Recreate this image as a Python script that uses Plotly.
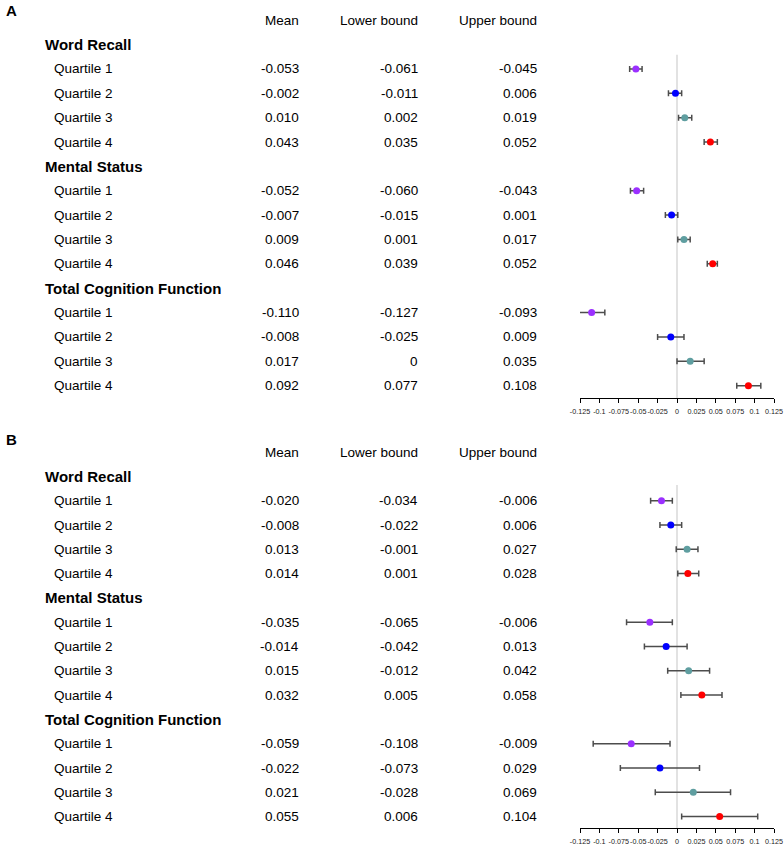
import plotly.graph_objects as go

outcomes = ["Word Recall", "Mental Status", "Total Cognition Function"]
quartiles = ["Quartile 1", "Quartile 2", "Quartile 3", "Quartile 4"]
columns = ["Mean", "Lower bound", "Upper bound"]
ticks = [-0.125, -0.1, -0.075, -0.05, -0.025, 0, 0.025, 0.05, 0.075, 0.1, 0.125]
tick_text = ["-0.125", "-0.1", "-0.075", "-0.05", "-0.025", "0", "0.025", "0.05", "0.075", "0.1", "0.125"]
q_colors = ["#9b30ff", "#0000ff", "#5f9ea0", "#ff0000"]

A_mean = [-0.053, -0.002, 0.010, 0.043, -0.052, -0.007, 0.009, 0.046, -0.110, -0.008, 0.017, 0.092]
A_lower = [-0.061, -0.011, 0.002, 0.035, -0.060, -0.015, 0.001, 0.039, -0.127, -0.025, 0, 0.077]
A_upper = [-0.045, 0.006, 0.019, 0.052, -0.043, 0.001, 0.017, 0.052, -0.093, 0.009, 0.035, 0.108]

B_mean = [-0.020, -0.008, 0.013, 0.014, -0.035, -0.014, 0.015, 0.032, -0.059, -0.022, 0.021, 0.055]
B_lower = [-0.034, -0.022, -0.001, 0.001, -0.065, -0.042, -0.012, 0.005, -0.108, -0.073, -0.028, 0.006]
B_upper = [-0.006, 0.006, 0.027, 0.028, -0.006, 0.013, 0.042, 0.058, -0.009, 0.029, 0.069, 0.104]

W, H = 784, 846
FONT = "Liberation Sans, Arial, sans-serif"

panels = [
    dict(label="A", mean=A_mean, lower=A_lower, upper=A_upper,
         row0=44.6, step=24.36, axis_px=398, top_px=5, line_top=0.42, label_px=10,
         xa="x", ya="y"),
    dict(label="B", mean=B_mean, lower=B_lower, upper=B_upper,
         row0=476.4, step=24.3, axis_px=828, top_px=436, line_top=0.35, label_px=439,
         xa="x2", ya="y2"),
]

fig = go.Figure()
annotations = []
shapes = []
col_right_px = [301, 420, 539]

def fmt(v):
    return "0" if v == 0 else f"{v:.3f}"

for p in panels:
    r_bottom = (p["axis_px"] - p["row0"]) / p["step"]
    r_top = (p["top_px"] - p["row0"]) / p["step"]
    p["r_bottom"], p["r_top"] = r_bottom, r_top
    p["domain"] = [1 - p["axis_px"] / H, 1 - p["top_px"] / H]

    for k, oc in enumerate(outcomes):
        title_row = k * 5
        annotations.append(dict(text=f"<b>{oc}</b>", xref="paper", yref=p["ya"],
                                x=43 / W, y=title_row, xanchor="left", yanchor="middle",
                                showarrow=False, font=dict(family=FONT, size=15, color="black")))
        for q, qn in enumerate(quartiles):
            idx = k * 4 + q
            row = title_row + 1 + q
            annotations.append(dict(text=qn, xref="paper", yref=p["ya"], x=52 / W, y=row,
                                    xanchor="left", yanchor="middle", showarrow=False,
                                    font=dict(family=FONT, size=13.5, color="black")))
            for c, vals in enumerate([p["mean"], p["lower"], p["upper"]]):
                annotations.append(dict(text=fmt(vals[idx]), xref="paper", yref=p["ya"],
                                        x=col_right_px[c] / W, y=row, xanchor="right",
                                        yanchor="middle", showarrow=False,
                                        font=dict(family=FONT, size=13.5, color="black")))
    for c, cn in enumerate(columns):
        annotations.append(dict(text=cn, xref="paper", yref=p["ya"], x=col_right_px[c] / W, y=-1,
                                xanchor="right", yanchor="middle", showarrow=False,
                                font=dict(family=FONT, size=13.5, color="black")))
    annotations.append(dict(text=f"<b>{p['label']}</b>", xref="paper", yref="paper",
                            x=4 / W, y=1 - p["label_px"] / H, xanchor="left", yanchor="middle",
                            showarrow=False, font=dict(family=FONT, size=15, color="black")))

    shapes.append(dict(type="line", xref=p["xa"], yref=p["ya"], x0=0, x1=0,
                       y0=p["line_top"], y1=r_bottom, line=dict(color="#d9d9d9", width=1.5),
                       layer="below"))

    for q in range(4):
        xs, ys, ep, em = [], [], [], []
        for k in range(3):
            idx = k * 4 + q
            xs.append(p["mean"][idx])
            ys.append(k * 5 + 1 + q)
            ep.append(p["upper"][idx] - p["mean"][idx])
            em.append(p["mean"][idx] - p["lower"][idx])
        fig.add_trace(go.Scatter(
            x=xs, y=ys, mode="markers", xaxis=p["xa"], yaxis=p["ya"],
            marker=dict(color=q_colors[q], size=7, line=dict(width=0)),
            error_x=dict(type="data", array=ep, arrayminus=em, visible=True,
                         color="#4d4d4d", thickness=1.5, width=3),
            cliponaxis=False, showlegend=False, hoverinfo="skip"))

xdom = [580 / W, 774 / W]
axis_common = dict(domain=xdom, range=[-0.125, 0.125], tickvals=ticks, ticktext=tick_text,
                   ticks="outside", ticklen=4, tickcolor="black", tickwidth=1, tickangle=0,
                   ticklabelstandoff=2,
                   showline=True, linecolor="black", linewidth=1, zeroline=False,
                   showgrid=False, tickfont=dict(family=FONT, size=7.2, color="#222"),
                   fixedrange=True, automargin=False)

fig.update_layout(
    width=W, height=H, margin=dict(l=0, r=0, t=0, b=0, pad=0, autoexpand=False),
    paper_bgcolor="white", plot_bgcolor="white",
    xaxis=dict(anchor="y", **axis_common),
    xaxis2=dict(anchor="y2", **axis_common),
    yaxis=dict(domain=panels[0]["domain"], range=[panels[0]["r_bottom"], panels[0]["r_top"]],
               visible=False, fixedrange=True),
    yaxis2=dict(domain=panels[1]["domain"], range=[panels[1]["r_bottom"], panels[1]["r_top"]],
                visible=False, fixedrange=True),
    annotations=annotations, shapes=shapes,
)

fig.write_html("out.html", config={"displayModeBar": False},
               post_script="document.body.style.margin='0';document.body.style.overflow='hidden';")
